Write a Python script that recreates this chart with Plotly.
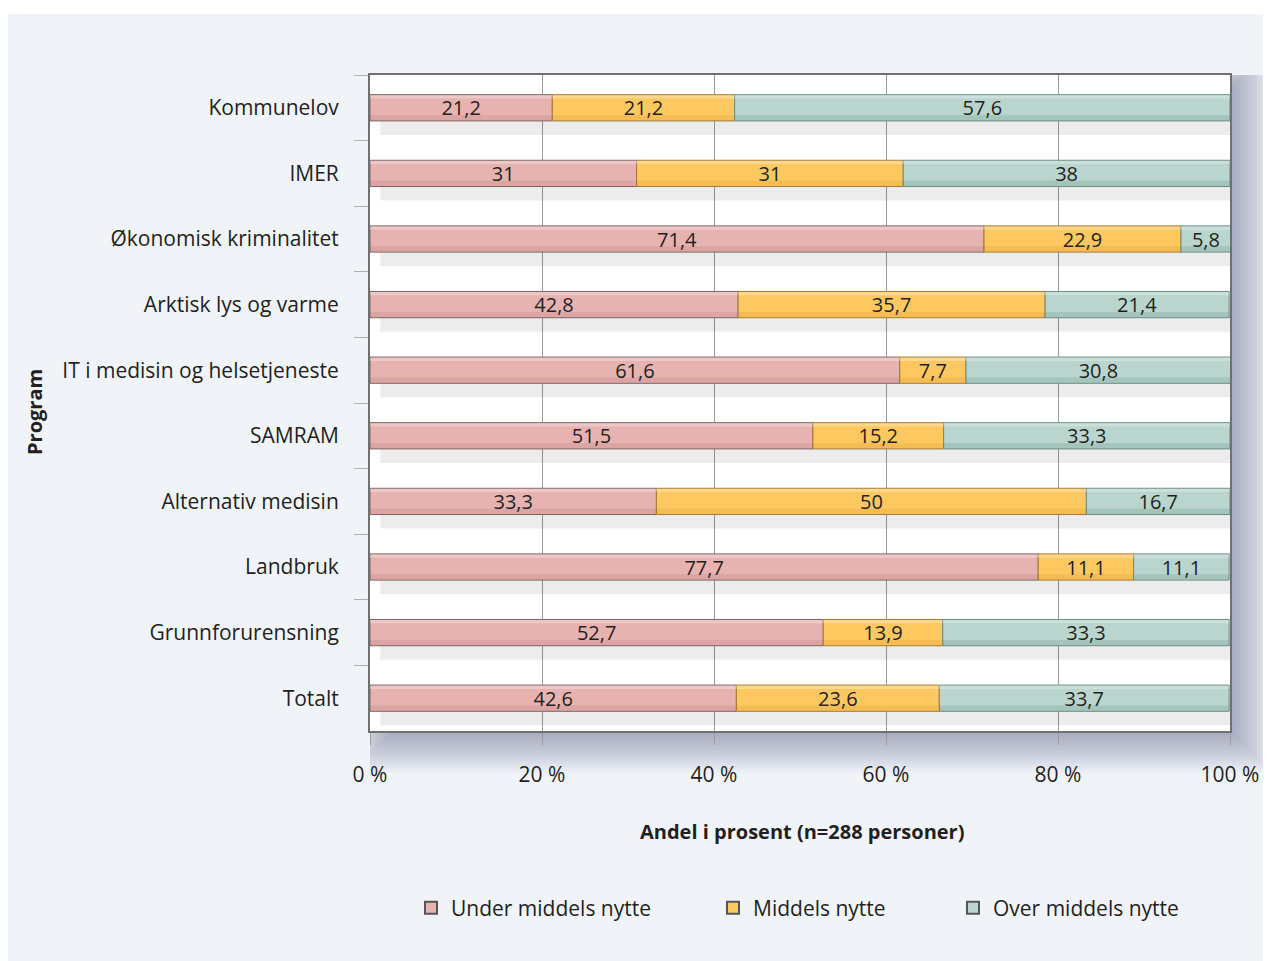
import plotly.graph_objects as go
import numpy as np

categories = ["Kommunelov", "IMER", "Økonomisk kriminalitet", "Arktisk lys og varme",
              "IT i medisin og helsetjeneste", "SAMRAM", "Alternativ medisin",
              "Landbruk", "Grunnforurensning", "Totalt"]
under = [21.2, 31, 71.4, 42.8, 61.6, 51.5, 33.3, 77.7, 52.7, 42.6]
middels = [21.2, 31, 22.9, 35.7, 7.7, 15.2, 50, 11.1, 13.9, 23.6]
over = [57.6, 38, 5.8, 21.4, 30.8, 33.3, 16.7, 11.1, 33.3, 33.7]
series_names = ["Under middels nytte", "Middels nytte", "Over middels nytte"]
x_ticks = [0, 20, 40, 60, 80, 100]
x_tick_labels = ["0 %", "20 %", "40 %", "60 %", "80 %", "100 %"]

FONT = "Open Sans"
TXT = "#231f20"
fills = ["#e6b3b1", "#fdc860", "#b9d5cd"]
edges = ["#7d6464", "#a27a34", "#6d8c84"]
shades = ["rgba(150,60,60,0.12)", "rgba(190,120,0,0.14)", "rgba(40,100,85,0.14)"]

W, H = 1263, 953
OFF = 8  # page body margin
# plot area in screen pixels
SX0, SX1, SY0, SY1 = 370, 1230, 75, 731
L, T = SX0 - OFF, SY0 - OFF
R, B = W - (SX1 - OFF), H - (SY1 - OFF)
pw, ph = SX1 - SX0, SY1 - SY0


def px(sx):
    return (sx - SX0) / pw


def py(sy):
    return 1 - (sy - SY0) / ph


def fmt(v):
    return f"{v:g}".replace(".", ",")


fig = go.Figure()

series = [np.array(under), np.array(middels), np.array(over)]
totals = series[0] + series[1] + series[2]

# shadow band under each bar
fig.add_trace(go.Bar(
    y=categories, x=totals, base=1.2, orientation="h",
    width=0.4, offset=-0.2 + 0.213,
    marker=dict(color="rgba(0,0,0,0.075)", line=dict(width=0)),
    showlegend=False, hoverinfo="skip"))

cum = np.zeros(len(categories))
bases = []
for vals, name, fc, ec in zip(series, series_names, fills, edges):
    bases.append(cum.copy())
    fig.add_trace(go.Bar(
        y=categories, x=vals, base=cum.copy(), orientation="h", name=name,
        width=0.4, offset=-0.2,
        marker=dict(color=fc, line=dict(color=ec, width=1)),
        text=[fmt(v) for v in vals], textposition="inside",
        insidetextanchor="middle", textangle=0, constraintext="none",
        textfont=dict(family=FONT, size=20, color=TXT),
        hoverinfo="x+y", showlegend=False))
    cum = cum + vals

# subtle gradient shading (darker lower edge, lighter upper edge)
for vals, b, sh in zip(series, bases, shades):
    fig.add_trace(go.Bar(
        y=categories, x=vals, base=b, orientation="h",
        width=0.08, offset=0.112,
        marker=dict(color=sh, line=dict(width=0)),
        showlegend=False, hoverinfo="skip"))
    fig.add_trace(go.Bar(
        y=categories, x=vals, base=b, orientation="h",
        width=0.05, offset=-0.192,
        marker=dict(color="rgba(255,255,255,0.28)", line=dict(width=0)),
        showlegend=False, hoverinfo="skip"))

# legend entries (one legend per entry for exact placement)
legend_x = [411, 713, 953]
for i, (name, fc, ec) in enumerate(zip(series_names, fills, edges)):
    lg = "legend" if i == 0 else f"legend{i + 1}"
    fig.add_trace(go.Scatter(
        x=[None], y=[None], mode="markers", name=name, legend=lg,
        marker=dict(symbol="square", size=19, color=fc, line=dict(color="#555", width=1))))

shapes = []
# white strip at the very top
shapes.append(dict(type="rect", xref="paper", yref="paper",
                   x0=px(0), x1=px(W + 20), y0=py(0), y1=py(14),
                   fillcolor="white", line=dict(width=0), layer="below"))

# soft drop shadow outside plot area
s = 8
for e in np.linspace(-8, 34, 22):
    x0k = max(SX0 + 2 * s - e, SX0)
    y0k = max(SY0 + s - e, SY0)
    x1k = SX1 + s + e
    y1k = SY1 + s + e
    if x1k <= SX1 or y1k <= SY1:
        continue
    pts = [(SX1, y0k), (x1k, y0k), (x1k, y1k), (x0k, y1k), (x0k, SY1), (SX1, SY1)]
    path = "M " + " L ".join(f"{px(a):.5f},{py(b):.5f}" for a, b in pts) + " Z"
    shapes.append(dict(type="path", xref="paper", yref="paper", path=path,
                       fillcolor="rgba(60,70,90,0.02)", line=dict(width=0), layer="below"))

legend_common = dict(orientation="h", yanchor="middle", xanchor="left",
                     font=dict(family=FONT, size=21, color=TXT),
                     bgcolor="rgba(0,0,0,0)", itemsizing="constant")

fig.update_layout(
    width=W, height=H,
    margin=dict(l=L, r=R, t=T, b=B),
    paper_bgcolor="#f0f4f9", plot_bgcolor="white",
    barmode="overlay",
    font=dict(family=FONT, size=20, color=TXT),
    separators=", ",
    shapes=shapes,
    showlegend=True,
    legend=dict(x=px(legend_x[0]), y=py(908), **legend_common),
    legend2=dict(x=px(legend_x[1]), y=py(908), **legend_common),
    legend3=dict(x=px(legend_x[2]), y=py(908), **legend_common),
    annotations=[
        dict(text="<b>Andel i prosent (n=288 personer)</b>", xref="paper", yref="paper",
             x=px(802), y=py(831), showarrow=False,
             font=dict(family=FONT, size=20, color=TXT), xanchor="center", yanchor="middle"),
        dict(text="<b>Program</b>", xref="paper", yref="paper", textangle=-90,
             x=px(34), y=py(412), showarrow=False,
             font=dict(family=FONT, size=20, color=TXT), xanchor="center", yanchor="middle"),
    ],
)

fig.update_xaxes(
    range=[0, 100], tickvals=x_ticks, ticktext=x_tick_labels,
    showgrid=True, gridcolor="#9a9a9a", gridwidth=1,
    ticks="outside", ticklen=12, tickcolor="#9a9a9a", tickwidth=1,
    ticklabelstandoff=12,
    showline=True, linecolor="#707070", linewidth=2, mirror=True,
    zeroline=False, fixedrange=True,
    tickfont=dict(family=FONT, size=21, color=TXT),
)
fig.update_yaxes(
    type="category", categoryorder="array", categoryarray=categories,
    autorange="reversed", tickson="boundaries",
    ticks="outside", ticklen=14, tickcolor="#b0b0b0", tickwidth=1,
    ticklabelstandoff=25,
    showgrid=False,
    showline=True, linecolor="#707070", linewidth=2, mirror=True,
    tickfont=dict(family=FONT, size=21, color=TXT),
)

fig.write_html("out.html")
